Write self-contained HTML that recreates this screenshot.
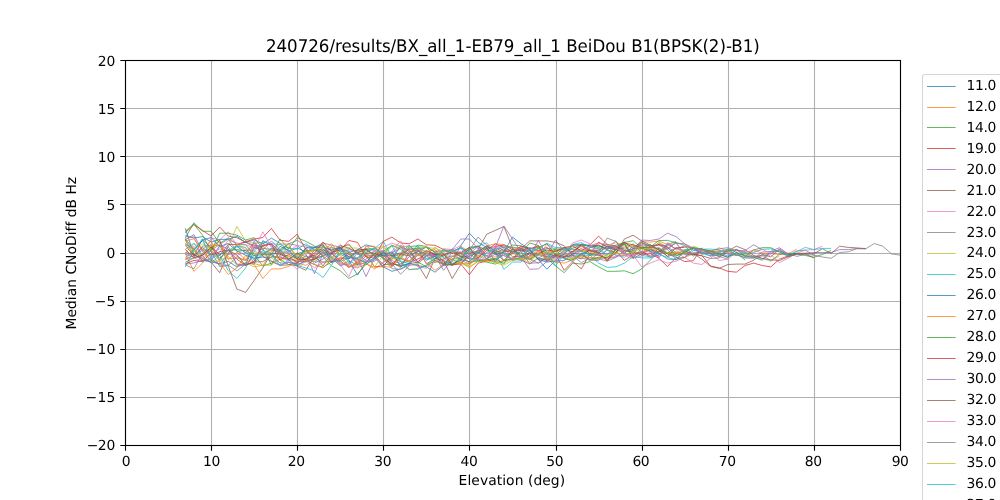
<!DOCTYPE html>
<html><head><meta charset="utf-8"><title>plot</title>
<style>html,body{margin:0;padding:0;background:#fff;width:1000px;height:500px;overflow:hidden}</style>
</head><body>
<svg width="1000" height="500" viewBox="0 0 1000 500" style="position:absolute;left:0;top:0">
<rect width="1000" height="500" fill="#fff"/>
<path d="M125.5 60.0V445.5M211.5 60.0V445.5M297.5 60.0V445.5M383.5 60.0V445.5M469.5 60.0V445.5M556.5 60.0V445.5M642.5 60.0V445.5M728.5 60.0V445.5M814.5 60.0V445.5M900.5 60.0V445.5M125.0 445.5H900.5M125.0 397.5H900.5M125.0 349.5H900.5M125.0 301.5H900.5M125.0 253.5H900.5M125.0 204.5H900.5M125.0 156.5H900.5M125.0 108.5H900.5M125.0 60.5H900.5" stroke="#b0b0b0" stroke-width="1.11" fill="none"/>
<clipPath id="c"><rect x="125.5" y="60.5" width="775" height="385"/></clipPath>
<g clip-path="url(#c)" fill="none" stroke-width="0.75" stroke-linejoin="round">
<polyline points="185.3,228.4 193.9,254.6 202.5,260.1 211.1,261.9 219.7,263.8 228.3,261.3 236.9,267.0 245.6,262.9 254.2,264.2 262.8,240.7 271.4,245.7 280.0,254.3 288.6,258.6 297.2,261.1 305.8,262.0 314.4,259.4 323.1,251.5 331.7,254.6 340.3,247.7 348.9,252.4 357.5,249.7 366.1,244.8 374.7,247.2 383.3,255.9 391.9,255.1 400.6,252.9 409.2,245.2 417.8,253.7 426.4,260.3 435.0,255.9 443.6,264.0 452.2,261.8 460.8,245.6 469.4,233.2 478.1,242.4 486.7,247.5 495.3,262.0 503.9,252.7 512.5,259.2 521.1,258.0 529.7,253.7 538.3,248.3 546.9,253.3 555.6,256.3 564.2,250.8 572.8,248.2 581.4,244.7 590.0,245.3 598.6,247.5 607.2,244.1 615.8,249.2 624.4,253.2 633.1,246.6 641.7,245.8 650.3,251.6 658.9,256.5" stroke="#1f77b4"/>
<polyline points="185.3,253.7 193.9,271.3 202.5,263.1 211.1,250.2 219.7,240.8 228.3,258.7 236.9,258.1 245.6,260.1 254.2,246.6 262.8,246.0 271.4,254.9 280.0,258.7 288.6,257.9 297.2,262.9 305.8,265.3 314.4,259.7 323.1,245.3 331.7,256.8 340.3,262.4 348.9,266.1 357.5,268.0 366.1,263.8 374.7,268.9 383.3,262.2 391.9,257.7 400.6,261.8 409.2,269.8 417.8,268.4 426.4,265.0 435.0,260.8 443.6,264.7 452.2,264.0 460.8,263.2 469.4,264.1 478.1,252.2 486.7,256.3 495.3,257.0 503.9,252.0 512.5,249.6 521.1,246.8 529.7,260.3 538.3,250.4 546.9,253.1 555.6,251.2 564.2,249.6 572.8,245.3 581.4,244.6 590.0,246.1 598.6,242.9 607.2,246.4 615.8,247.9 624.4,244.3 633.1,248.3 641.7,241.5 650.3,242.1 658.9,241.0 667.5,244.6 676.1,248.8 684.7,247.1 693.3,247.9 701.9,249.9 710.6,252.0 719.2,250.5 727.8,250.0 736.4,250.2 745.0,252.9 753.6,249.9 762.2,253.3 770.8,253.4 779.4,254.6 788.1,253.9 796.7,249.1" stroke="#ff7f0e"/>
<polyline points="185.3,238.1 193.9,222.7 202.5,231.3 211.1,231.3 219.7,243.4 228.3,237.8 236.9,244.5 245.6,244.8 254.2,254.7 262.8,266.0 271.4,263.2 280.0,259.3 288.6,264.5 297.2,265.9 305.8,260.2 314.4,264.5 323.1,267.2 331.7,261.9 340.3,254.3 348.9,258.6 357.5,251.0 366.1,248.9 374.7,249.9 383.3,259.3 391.9,264.2 400.6,257.3 409.2,248.2 417.8,248.6 426.4,247.3 435.0,251.6 443.6,250.8 452.2,253.2 460.8,256.6 469.4,262.0 478.1,261.1 486.7,262.1 495.3,264.1 503.9,260.6 512.5,250.8 521.1,253.6 529.7,243.0 538.3,245.4 546.9,258.3 555.6,266.0 564.2,272.7 572.8,263.1 581.4,264.1 590.0,261.6 598.6,266.9 607.2,271.3 615.8,271.3 624.4,270.8 633.1,273.7 641.7,268.9 650.3,260.2 658.9,251.4 667.5,244.4 676.1,241.5" stroke="#2ca02c"/>
<polyline points="185.3,232.8 193.9,224.6 202.5,230.4 211.1,236.1 219.7,227.0 228.3,236.1 236.9,237.7 245.6,242.3 254.2,245.4 262.8,246.1 271.4,243.8 280.0,252.3 288.6,259.7 297.2,252.9 305.8,260.6 314.4,259.0 323.1,255.7 331.7,253.0 340.3,260.9 348.9,251.8 357.5,264.1 366.1,255.8 374.7,266.8 383.3,265.9 391.9,256.3 400.6,258.3 409.2,262.1 417.8,259.2 426.4,253.0 435.0,254.5 443.6,255.7 452.2,250.5 460.8,256.8 469.4,258.7 478.1,258.4 486.7,248.0 495.3,246.7 503.9,245.0 512.5,249.6 521.1,250.6 529.7,247.8 538.3,250.7 546.9,247.4 555.6,254.5 564.2,270.3 572.8,261.6 581.4,268.9 590.0,253.7 598.6,242.2 607.2,246.8 615.8,250.4 624.4,260.4 633.1,254.6 641.7,251.4 650.3,256.0 658.9,248.3 667.5,256.5 676.1,253.9 684.7,250.6 693.3,254.1 701.9,255.6 710.6,266.0 719.2,267.9 727.8,271.3 736.4,272.2 745.0,265.5 753.6,263.1 762.2,265.5 770.8,266.9 779.4,259.2 788.1,255.9 796.7,253.8" stroke="#d62728"/>
<polyline points="185.3,239.8 193.9,234.5 202.5,251.5 211.1,260.4 219.7,263.9 228.3,254.5 236.9,244.8 245.6,242.0 254.2,247.3 262.8,250.0 271.4,240.9 280.0,249.6 288.6,243.7 297.2,245.4 305.8,253.7 314.4,273.7 323.1,253.9 331.7,247.3 340.3,251.7 348.9,249.7 357.5,250.9 366.1,252.4 374.7,248.3 383.3,254.3 391.9,260.6 400.6,263.5 409.2,260.9 417.8,254.7 426.4,258.4 435.0,256.0 443.6,270.3 452.2,259.8 460.8,262.6 469.4,255.8 478.1,250.8 486.7,258.8 495.3,249.8 503.9,244.7 512.5,248.0 521.1,257.2 529.7,269.3 538.3,268.9 546.9,261.4 555.6,256.5 564.2,256.4 572.8,255.9 581.4,262.7 590.0,258.0 598.6,259.0 607.2,257.2 615.8,257.2 624.4,250.3 633.1,249.3 641.7,240.0 650.3,240.5 658.9,239.0 667.5,233.2 676.1,236.6 684.7,243.8 693.3,250.3 701.9,249.4 710.6,254.8 719.2,252.2 727.8,256.0 736.4,254.5 745.0,258.0 753.6,258.3 762.2,252.1 770.8,251.4 779.4,247.7 788.1,253.9 796.7,253.5 805.3,253.1 813.9,252.5 822.5,252.5 831.1,252.5 839.7,249.6 848.3,249.6 856.9,248.5 865.6,248.4" stroke="#9467bd"/>
<polyline points="185.3,252.4 193.9,254.5 202.5,258.3 211.1,262.1 219.7,272.7 228.3,252.5 236.9,246.5 245.6,252.7 254.2,242.9 262.8,256.4 271.4,261.5 280.0,265.3 288.6,264.9 297.2,263.3 305.8,248.0 314.4,257.6 323.1,262.3 331.7,261.2 340.3,260.8 348.9,267.6 357.5,262.2 366.1,253.6 374.7,253.6 383.3,251.0 391.9,262.3 400.6,267.4 409.2,252.3 417.8,249.4 426.4,263.8 435.0,258.7 443.6,254.7 452.2,251.9 460.8,253.2 469.4,259.0 478.1,249.4 486.7,234.2 495.3,230.4 503.9,226.5 512.5,247.9 521.1,260.2 529.7,263.9 538.3,258.0 546.9,253.6 555.6,255.6 564.2,257.5 572.8,254.7 581.4,248.3 590.0,256.0 598.6,249.5 607.2,246.8 615.8,247.1 624.4,242.1 633.1,248.4 641.7,242.3 650.3,247.0 658.9,248.6 667.5,252.8 676.1,247.7 684.7,252.1 693.3,253.5 701.9,259.2 710.6,266.5 719.2,268.4 727.8,264.5 736.4,264.1 745.0,264.1 753.6,260.2 762.2,254.2 770.8,256.9 779.4,249.1 788.1,254.2 796.7,254.1 805.3,253.6 813.9,253.7 822.5,248.7 831.1,253.5 839.7,246.2 848.3,247.4 856.9,247.9 865.6,248.7" stroke="#8c564b"/>
<polyline points="185.3,239.4 193.9,236.1 202.5,258.9 211.1,237.8 219.7,239.9 228.3,231.8 236.9,245.4 245.6,249.8 254.2,251.3 262.8,254.3 271.4,250.2 280.0,249.5 288.6,260.7 297.2,258.4 305.8,253.2 314.4,250.6 323.1,255.2 331.7,252.7 340.3,244.3 348.9,254.2 357.5,262.3 366.1,246.1 374.7,251.3 383.3,250.4 391.9,256.4 400.6,247.5 409.2,245.5 417.8,255.9 426.4,253.5 435.0,256.3 443.6,248.7 452.2,249.6 460.8,261.3 469.4,251.3 478.1,255.4 486.7,252.9 495.3,251.0 503.9,253.5 512.5,253.6 521.1,248.4 529.7,250.7 538.3,256.1 546.9,244.3 555.6,249.5 564.2,253.1 572.8,254.8 581.4,250.8 590.0,247.1 598.6,249.1 607.2,246.0 615.8,255.8 624.4,255.4 633.1,254.5 641.7,251.9 650.3,247.6 658.9,258.4 667.5,242.4 676.1,249.9 684.7,249.8 693.3,248.1 701.9,249.1 710.6,253.6 719.2,260.6 727.8,259.1 736.4,252.2 745.0,255.4 753.6,255.8 762.2,258.7 770.8,254.6 779.4,262.6 788.1,258.3 796.7,253.1 805.3,250.1 813.9,249.6 822.5,246.2" stroke="#e377c2"/>
<polyline points="185.3,264.9 193.9,268.8 202.5,253.1 211.1,251.1 219.7,266.7 228.3,265.6 236.9,256.4 245.6,260.8 254.2,249.0 262.8,246.0 271.4,243.8 280.0,251.3 288.6,243.8 297.2,240.3 305.8,245.7 314.4,247.2 323.1,243.1 331.7,245.2 340.3,247.3 348.9,256.7 357.5,258.6 366.1,250.1 374.7,255.3 383.3,267.9 391.9,252.6 400.6,245.3 409.2,251.7 417.8,261.8 426.4,256.1 435.0,252.7 443.6,253.7 452.2,263.4 460.8,260.4 469.4,263.8 478.1,259.1 486.7,259.9 495.3,260.0 503.9,255.0 512.5,254.0 521.1,248.6 529.7,258.5 538.3,263.4 546.9,256.7 555.6,250.0 564.2,249.0 572.8,252.1 581.4,251.0 590.0,254.6 598.6,252.3 607.2,238.1 615.8,241.4 624.4,249.9 633.1,243.8 641.7,252.2 650.3,248.8 658.9,242.7 667.5,247.0 676.1,252.4 684.7,253.8 693.3,253.2 701.9,251.6 710.6,252.5 719.2,251.3 727.8,251.6 736.4,249.4 745.0,252.5 753.6,256.7 762.2,256.0 770.8,253.4 779.4,249.6 788.1,255.5 796.7,251.0 805.3,250.1 813.9,255.2 822.5,257.0 831.1,258.3 839.7,252.5 848.3,251.8 856.9,248.7 865.6,248.9 874.2,243.5 882.8,246.2 891.4,253.9 900.0,255.1" stroke="#7f7f7f"/>
<polyline points="185.3,253.0 193.9,243.7 202.5,248.5 211.1,261.6 219.7,261.0 228.3,246.7 236.9,226.5 245.6,240.9 254.2,243.4 262.8,242.5 271.4,251.6 280.0,249.2 288.6,246.8 297.2,255.7 305.8,253.5 314.4,248.2 323.1,256.5 331.7,249.6 340.3,247.4 348.9,245.3 357.5,253.2 366.1,249.8 374.7,248.8 383.3,245.7 391.9,255.6 400.6,253.8 409.2,247.9 417.8,254.3 426.4,255.5 435.0,247.1 443.6,254.8 452.2,260.1 460.8,262.8 469.4,265.6 478.1,255.3 486.7,258.9 495.3,262.4 503.9,262.8 512.5,259.2 521.1,253.1 529.7,259.3 538.3,251.2 546.9,254.9 555.6,250.2 564.2,247.9 572.8,247.1 581.4,251.0 590.0,251.6 598.6,249.3 607.2,257.2 615.8,252.7 624.4,248.2 633.1,245.3 641.7,247.6 650.3,249.6 658.9,249.5 667.5,253.0 676.1,251.8 684.7,249.9 693.3,248.6 701.9,254.5 710.6,251.2 719.2,247.7 727.8,251.3 736.4,255.3 745.0,254.4 753.6,257.8 762.2,258.4 770.8,261.2 779.4,256.0" stroke="#bcbd22"/>
<polyline points="185.3,266.9 193.9,250.0 202.5,240.4 211.1,257.0 219.7,246.5 228.3,255.0 236.9,246.3 245.6,247.3 254.2,260.1 262.8,254.1 271.4,248.3 280.0,250.0 288.6,249.7 297.2,257.2 305.8,259.0 314.4,261.6 323.1,256.1 331.7,247.7 340.3,249.2 348.9,251.0 357.5,259.1 366.1,248.9 374.7,248.3 383.3,241.4 391.9,256.4 400.6,261.1 409.2,263.7 417.8,246.8 426.4,251.9 435.0,258.8 443.6,256.4 452.2,252.1 460.8,255.9 469.4,247.2 478.1,246.1 486.7,242.8 495.3,252.6 503.9,269.3 512.5,262.1 521.1,262.1 529.7,251.8 538.3,249.2 546.9,243.2 555.6,247.7 564.2,248.0 572.8,255.9 581.4,255.3 590.0,255.4 598.6,255.4 607.2,250.2 615.8,254.8 624.4,257.3 633.1,250.0 641.7,255.5 650.3,256.8 658.9,251.6 667.5,249.4 676.1,259.7 684.7,257.5 693.3,250.7 701.9,249.1 710.6,249.1 719.2,249.8 727.8,254.4 736.4,255.1 745.0,253.8 753.6,252.5 762.2,249.4 770.8,248.9 779.4,251.8 788.1,255.4 796.7,251.6 805.3,247.4 813.9,249.6 822.5,248.4 831.1,248.4" stroke="#17becf"/>
<polyline points="185.3,235.8 193.9,238.0 202.5,236.6 211.1,242.1 219.7,239.4 228.3,239.3 236.9,236.3 245.6,242.4 254.2,239.9 262.8,243.9 271.4,238.1 280.0,243.3 288.6,251.6 297.2,248.0 305.8,251.9 314.4,247.4 323.1,244.8 331.7,262.9 340.3,252.7 348.9,256.7 357.5,259.5 366.1,262.3 374.7,257.7 383.3,266.9 391.9,271.3 400.6,268.9 409.2,263.9 417.8,255.3 426.4,250.7 435.0,254.2 443.6,260.9 452.2,265.7 460.8,256.7 469.4,256.4 478.1,252.4 486.7,245.9 495.3,250.8 503.9,253.4 512.5,260.4 521.1,251.0 529.7,250.3 538.3,259.3 546.9,269.3 555.6,260.1 564.2,253.9 572.8,244.7 581.4,245.2 590.0,245.7 598.6,245.8 607.2,248.1 615.8,249.7 624.4,242.3 633.1,248.2 641.7,248.3 650.3,251.4 658.9,253.2 667.5,259.0 676.1,259.5 684.7,251.3 693.3,248.4 701.9,252.5 710.6,255.9 719.2,254.4 727.8,257.4 736.4,249.5 745.0,256.2 753.6,257.2 762.2,260.2 770.8,251.9 779.4,250.8 788.1,254.6 796.7,253.4" stroke="#1f77b4"/>
<polyline points="185.3,241.0 193.9,238.8 202.5,250.0 211.1,240.5 219.7,262.7 228.3,274.6 236.9,267.7 245.6,255.6 254.2,263.6 262.8,265.8 271.4,251.2 280.0,244.0 288.6,244.0 297.2,259.7 305.8,259.7 314.4,250.2 323.1,250.4 331.7,243.8 340.3,255.5 348.9,266.2 357.5,264.8 366.1,246.3 374.7,246.2 383.3,257.2 391.9,266.9 400.6,258.3 409.2,261.1 417.8,252.7 426.4,262.8 435.0,270.3 443.6,264.1 452.2,265.4 460.8,262.1 469.4,267.8 478.1,260.9 486.7,260.4 495.3,261.8 503.9,260.9 512.5,257.8 521.1,260.1 529.7,250.9 538.3,245.7 546.9,251.1 555.6,251.7 564.2,248.1 572.8,249.8 581.4,250.1 590.0,250.8 598.6,255.1 607.2,258.2 615.8,252.4 624.4,246.2 633.1,253.9 641.7,252.5 650.3,249.3 658.9,252.0 667.5,252.9 676.1,252.4 684.7,257.5 693.3,253.5" stroke="#ff7f0e"/>
<polyline points="185.3,231.3 193.9,224.1 202.5,235.2 211.1,251.1 219.7,233.2 228.3,233.2 236.9,235.2 245.6,240.0 254.2,237.6 262.8,249.0 271.4,264.9 280.0,249.6 288.6,259.2 297.2,253.7 305.8,250.8 314.4,250.3 323.1,249.1 331.7,258.2 340.3,265.8 348.9,260.9 357.5,265.2 366.1,262.1 374.7,253.6 383.3,257.7 391.9,263.7 400.6,266.0 409.2,263.7 417.8,262.1 426.4,266.7 435.0,260.3 443.6,264.4 452.2,258.8 460.8,258.7 469.4,248.1 478.1,246.4 486.7,249.9 495.3,252.5 503.9,250.4 512.5,245.0 521.1,245.8 529.7,248.5 538.3,247.7 546.9,243.8 555.6,254.9 564.2,247.8 572.8,252.0 581.4,244.0 590.0,246.1 598.6,245.9 607.2,249.3 615.8,245.2 624.4,242.5 633.1,240.7 641.7,248.3 650.3,247.0 658.9,240.5 667.5,240.4 676.1,242.8 684.7,245.3 693.3,256.2 701.9,249.7 710.6,250.7 719.2,255.9 727.8,249.1 736.4,252.4 745.0,256.5 753.6,250.0 762.2,247.7 770.8,247.7 779.4,252.0 788.1,256.5 796.7,254.0 805.3,255.4 813.9,257.3 822.5,254.4 831.1,250.6" stroke="#2ca02c"/>
<polyline points="185.3,263.8 193.9,260.4 202.5,261.7 211.1,253.1 219.7,255.5 228.3,244.4 236.9,244.5 245.6,241.7 254.2,239.0 262.8,237.6 271.4,228.4 280.0,240.2 288.6,241.4 297.2,234.2 305.8,249.7 314.4,259.9 323.1,251.8 331.7,262.0 340.3,257.9 348.9,258.8 357.5,249.7 366.1,249.3 374.7,256.2 383.3,254.7 391.9,266.0 400.6,253.8 409.2,249.7 417.8,262.8 426.4,250.9 435.0,254.6 443.6,254.2 452.2,264.7 460.8,264.1 469.4,274.6 478.1,263.1 486.7,261.0 495.3,259.2 503.9,250.8 512.5,252.1 521.1,248.5 529.7,255.4 538.3,253.1 546.9,250.0 555.6,251.2 564.2,247.6 572.8,245.9 581.4,251.0 590.0,244.8 598.6,236.1 607.2,244.6 615.8,245.9 624.4,250.7 633.1,252.0 641.7,254.9 650.3,253.5 658.9,258.3 667.5,266.5 676.1,257.3 684.7,261.6 693.3,260.7 701.9,247.7" stroke="#d62728"/>
<polyline points="185.3,254.0 193.9,257.3 202.5,246.2 211.1,245.3 219.7,259.8 228.3,246.2 236.9,265.4 245.6,265.1 254.2,241.1 262.8,255.1 271.4,253.8 280.0,263.2 288.6,262.5 297.2,264.6 305.8,261.2 314.4,254.7 323.1,247.5 331.7,250.0 340.3,246.8 348.9,258.1 357.5,258.1 366.1,276.6 374.7,258.0 383.3,252.7 391.9,253.2 400.6,247.8 409.2,249.4 417.8,250.4 426.4,255.5 435.0,256.2 443.6,252.1 452.2,249.6 460.8,239.0 469.4,239.0 478.1,248.9 486.7,258.6 495.3,254.3 503.9,255.5 512.5,259.3 521.1,260.3 529.7,256.2 538.3,240.5 546.9,254.9 555.6,240.0 564.2,251.7 572.8,257.9 581.4,258.1 590.0,260.1 598.6,253.0 607.2,254.3 615.8,247.4 624.4,252.3 633.1,249.2 641.7,244.7 650.3,245.7 658.9,244.7 667.5,249.4 676.1,242.4 684.7,254.9 693.3,254.7 701.9,249.9 710.6,253.8 719.2,256.4 727.8,259.1" stroke="#9467bd"/>
<polyline points="185.3,239.7 193.9,256.0 202.5,239.1 211.1,247.9 219.7,240.3 228.3,266.3 236.9,289.1 245.6,292.4 254.2,280.4 262.8,267.9 271.4,253.0 280.0,254.2 288.6,256.1 297.2,262.5 305.8,258.7 314.4,255.1 323.1,265.9 331.7,253.1 340.3,247.8 348.9,244.1 357.5,254.5 366.1,255.1 374.7,255.6 383.3,264.6 391.9,264.1 400.6,264.9 409.2,256.7 417.8,251.0 426.4,247.2 435.0,256.9 443.6,263.7 452.2,256.6 460.8,252.9 469.4,250.2 478.1,245.9 486.7,255.6 495.3,252.8 503.9,260.8 512.5,258.8 521.1,249.0 529.7,240.9 538.3,240.9 546.9,240.9 555.6,242.4 564.2,245.8 572.8,255.3 581.4,259.0 590.0,247.6 598.6,244.9 607.2,249.8 615.8,252.5 624.4,243.9 633.1,258.4 641.7,253.8 650.3,250.0 658.9,251.9 667.5,247.7 676.1,255.2 684.7,253.5 693.3,254.5 701.9,255.8 710.6,258.4 719.2,257.9 727.8,251.0 736.4,246.2 745.0,249.6 753.6,255.3 762.2,258.4 770.8,259.8 779.4,260.5 788.1,256.9 796.7,254.0 805.3,254.2 813.9,257.9" stroke="#8c564b"/>
<polyline points="185.3,259.5 193.9,258.0 202.5,261.2 211.1,257.4 219.7,252.2 228.3,240.1 236.9,242.9 245.6,244.5 254.2,248.3 262.8,231.8 271.4,247.1 280.0,252.7 288.6,251.1 297.2,245.6 305.8,246.8 314.4,249.8 323.1,254.0 331.7,246.4 340.3,264.7 348.9,276.6 357.5,257.9 366.1,255.3 374.7,250.9 383.3,247.1 391.9,243.2 400.6,245.8 409.2,262.5 417.8,258.9 426.4,256.7 435.0,250.9 443.6,250.6 452.2,249.8 460.8,245.5 469.4,257.9 478.1,259.0 486.7,260.2 495.3,247.0 503.9,250.5 512.5,250.7 521.1,260.0 529.7,258.3 538.3,254.6 546.9,256.0 555.6,256.2 564.2,252.9 572.8,242.9 581.4,240.0 590.0,243.8 598.6,254.3 607.2,259.6 615.8,256.2 624.4,255.5 633.1,258.3 641.7,256.1 650.3,252.4 658.9,257.1 667.5,245.4 676.1,243.4 684.7,254.2 693.3,252.8 701.9,250.1 710.6,250.9" stroke="#e377c2"/>
<polyline points="185.3,258.7 193.9,255.8 202.5,250.2 211.1,250.2 219.7,244.5 228.3,239.0 236.9,251.3 245.6,250.5 254.2,262.8 262.8,254.8 271.4,248.5 280.0,251.8 288.6,252.6 297.2,257.5 305.8,261.8 314.4,250.5 323.1,244.2 331.7,257.8 340.3,248.5 348.9,253.9 357.5,264.7 366.1,259.0 374.7,254.0 383.3,255.6 391.9,259.6 400.6,246.1 409.2,254.9 417.8,251.5 426.4,253.0 435.0,258.7 443.6,259.8 452.2,248.7 460.8,255.1 469.4,253.1 478.1,260.8 486.7,259.5 495.3,248.2 503.9,260.3 512.5,252.5 521.1,248.7 529.7,249.5 538.3,259.8 546.9,256.7 555.6,262.6 564.2,254.1 572.8,259.2 581.4,255.3 590.0,260.0 598.6,258.8 607.2,261.1 615.8,257.4 624.4,251.1 633.1,250.8 641.7,242.9 650.3,245.5 658.9,245.3 667.5,248.4 676.1,242.9 684.7,243.8 693.3,247.9 701.9,254.0 710.6,253.0 719.2,253.5 727.8,253.1 736.4,255.0 745.0,257.4 753.6,257.0 762.2,255.2 770.8,260.7 779.4,254.4 788.1,253.0 796.7,256.4 805.3,254.4 813.9,255.2" stroke="#7f7f7f"/>
<polyline points="185.3,243.8 193.9,253.4 202.5,254.5 211.1,243.8 219.7,245.6 228.3,256.6 236.9,265.1 245.6,262.7 254.2,266.9 262.8,265.2 271.4,265.2 280.0,256.1 288.6,247.1 297.2,256.1 305.8,258.1 314.4,261.3 323.1,262.4 331.7,257.8 340.3,250.5 348.9,247.9 357.5,248.1 366.1,254.5 374.7,266.9 383.3,254.9 391.9,246.2 400.6,245.8 409.2,247.0 417.8,246.5 426.4,247.5 435.0,248.3 443.6,251.3 452.2,253.3 460.8,246.4 469.4,251.4 478.1,255.6 486.7,260.5 495.3,250.7 503.9,253.3 512.5,259.9 521.1,258.9 529.7,258.9 538.3,247.4 546.9,253.3 555.6,252.9 564.2,257.9 572.8,258.8 581.4,249.9 590.0,253.3 598.6,253.5 607.2,245.3 615.8,242.7 624.4,244.9 633.1,247.5 641.7,246.4 650.3,249.6 658.9,242.6 667.5,253.9 676.1,252.6 684.7,254.2 693.3,246.2 701.9,249.5 710.6,251.8 719.2,251.8" stroke="#bcbd22"/>
<polyline points="185.3,249.5 193.9,243.2 202.5,256.3 211.1,263.1 219.7,254.9 228.3,270.8 236.9,278.5 245.6,267.9 254.2,251.5 262.8,242.0 271.4,243.7 280.0,244.4 288.6,248.2 297.2,249.1 305.8,243.7 314.4,249.8 323.1,252.3 331.7,258.6 340.3,261.5 348.9,258.3 357.5,252.4 366.1,264.5 374.7,257.3 383.3,255.5 391.9,254.9 400.6,259.7 409.2,246.5 417.8,245.7 426.4,259.0 435.0,258.7 443.6,249.9 452.2,251.5 460.8,248.5 469.4,251.1 478.1,253.0 486.7,255.7 495.3,261.1 503.9,250.8 512.5,260.8 521.1,257.4 529.7,249.6 538.3,257.8 546.9,260.8 555.6,247.8 564.2,248.4 572.8,249.1 581.4,251.9 590.0,255.0 598.6,263.1 607.2,267.4 615.8,266.9 624.4,263.1 633.1,256.7 641.7,257.9 650.3,258.0 658.9,254.4 667.5,257.3 676.1,260.0 684.7,250.1 693.3,248.6 701.9,253.0 710.6,256.2 719.2,252.0 727.8,249.0 736.4,255.0 745.0,251.3" stroke="#17becf"/>
<polyline points="185.3,238.8 193.9,249.6 202.5,240.2 211.1,237.5 219.7,246.5 228.3,243.5 236.9,251.0 245.6,255.2 254.2,258.0 262.8,257.0 271.4,257.7 280.0,246.3 288.6,250.4 297.2,259.2 305.8,247.8 314.4,247.7 323.1,246.9 331.7,250.4 340.3,247.7 348.9,260.4 357.5,275.1 366.1,262.0 374.7,253.7 383.3,255.7 391.9,251.7 400.6,266.4 409.2,263.3 417.8,265.7 426.4,266.9 435.0,272.2 443.6,265.3 452.2,264.4 460.8,259.4 469.4,261.7 478.1,253.2 486.7,247.7 495.3,254.7 503.9,252.0 512.5,237.1 521.1,243.8 529.7,248.9 538.3,259.7 546.9,262.0 555.6,261.1 564.2,260.6 572.8,253.5 581.4,254.4 590.0,250.0 598.6,253.2 607.2,246.0 615.8,249.3 624.4,247.9" stroke="#1f77b4"/>
<polyline points="185.3,260.2 193.9,247.6 202.5,261.0 211.1,246.1 219.7,245.3 228.3,259.5 236.9,252.2 245.6,259.2 254.2,264.5 262.8,278.5 271.4,268.9 280.0,268.9 288.6,266.5 297.2,261.3 305.8,260.3 314.4,264.6 323.1,268.0 331.7,259.1 340.3,258.2 348.9,266.6 357.5,263.0 366.1,263.9 374.7,267.3 383.3,266.5 391.9,267.2 400.6,255.2 409.2,251.8 417.8,249.4 426.4,251.9 435.0,249.4 443.6,262.6 452.2,258.8 460.8,253.2 469.4,263.7 478.1,256.9 486.7,245.9 495.3,243.8 503.9,244.6 512.5,253.5 521.1,255.3 529.7,257.2 538.3,250.6 546.9,259.1 555.6,261.9 564.2,263.1 572.8,259.8 581.4,256.0 590.0,257.5 598.6,257.9 607.2,254.9 615.8,246.7 624.4,255.0 633.1,251.5 641.7,247.1" stroke="#ff7f0e"/>
<polyline points="185.3,262.3 193.9,258.0 202.5,255.0 211.1,247.9 219.7,258.4 228.3,250.2 236.9,249.7 245.6,250.5 254.2,255.8 262.8,254.3 271.4,255.1 280.0,239.0 288.6,248.8 297.2,237.6 305.8,241.4 314.4,245.8 323.1,257.1 331.7,266.0 340.3,270.8 348.9,278.5 357.5,273.7 366.1,264.2 374.7,259.1 383.3,251.4 391.9,245.1 400.6,249.3 409.2,255.9 417.8,245.0 426.4,246.4 435.0,252.6 443.6,257.4 452.2,265.0 460.8,260.0 469.4,247.4 478.1,260.9 486.7,259.8 495.3,258.4 503.9,264.1 512.5,248.5 521.1,256.4 529.7,259.3 538.3,254.8 546.9,248.3 555.6,249.4 564.2,259.0 572.8,260.0 581.4,253.5 590.0,260.1 598.6,257.1 607.2,257.5 615.8,250.4 624.4,243.5 633.1,258.0 641.7,248.2 650.3,244.7 658.9,250.3 667.5,253.6 676.1,256.0 684.7,252.5 693.3,247.5 701.9,249.2 710.6,251.1 719.2,253.7 727.8,257.2 736.4,252.6 745.0,260.0" stroke="#2ca02c"/>
<polyline points="185.3,249.5 193.9,257.6 202.5,255.4 211.1,246.9 219.7,254.6 228.3,250.5 236.9,259.2 245.6,265.2 254.2,261.2 262.8,245.2 271.4,243.9 280.0,260.4 288.6,254.1 297.2,259.0 305.8,259.6 314.4,253.3 323.1,241.9 331.7,252.0 340.3,250.1 348.9,240.5 357.5,242.4 366.1,257.1 374.7,257.1 383.3,241.4 391.9,237.1 400.6,242.9 409.2,243.8 417.8,239.0 426.4,244.8 435.0,245.3 443.6,249.6 452.2,253.4 460.8,252.6 469.4,247.3 478.1,258.0 486.7,250.3 495.3,244.0 503.9,247.3 512.5,252.1 521.1,246.3 529.7,249.0 538.3,245.8 546.9,261.1 555.6,255.4 564.2,256.6 572.8,251.3 581.4,246.1 590.0,250.7 598.6,252.0 607.2,261.2 615.8,248.8 624.4,243.2 633.1,244.8 641.7,248.2 650.3,247.5 658.9,244.5 667.5,246.9" stroke="#d62728"/>
<polyline points="185.3,264.3 193.9,262.9 202.5,260.5 211.1,261.2 219.7,245.1 228.3,249.1 236.9,264.0 245.6,265.2 254.2,255.2 262.8,251.9 271.4,260.8 280.0,265.0 288.6,262.5 297.2,263.5 305.8,255.0 314.4,263.1 323.1,259.1 331.7,252.5 340.3,265.3 348.9,264.0 357.5,252.7 366.1,261.2 374.7,261.2 383.3,251.9 391.9,263.7 400.6,274.2 409.2,265.9 417.8,250.7 426.4,255.0 435.0,254.9 443.6,266.2 452.2,252.0 460.8,247.2 469.4,253.9 478.1,246.4 486.7,259.5 495.3,247.7 503.9,226.0 512.5,239.0 521.1,252.1 529.7,263.3 538.3,262.7 546.9,258.4 555.6,257.5 564.2,258.0 572.8,261.5 581.4,253.5 590.0,260.0 598.6,260.7 607.2,248.9 615.8,240.9 624.4,254.1 633.1,256.1 641.7,252.2 650.3,257.2 658.9,255.1 667.5,243.7 676.1,248.9 684.7,245.9 693.3,248.4 701.9,252.9 710.6,251.1 719.2,248.8 727.8,247.7 736.4,250.7 745.0,250.6 753.6,244.8 762.2,249.6" stroke="#9467bd"/>
<polyline points="185.3,245.2 193.9,255.9 202.5,247.3 211.1,255.0 219.7,251.7 228.3,250.0 236.9,255.0 245.6,265.3 254.2,262.0 262.8,261.6 271.4,256.8 280.0,257.1 288.6,259.6 297.2,266.2 305.8,270.3 314.4,256.1 323.1,249.8 331.7,253.1 340.3,245.6 348.9,248.2 357.5,252.8 366.1,249.0 374.7,255.3 383.3,253.2 391.9,255.8 400.6,254.7 409.2,255.4 417.8,264.3 426.4,278.5 435.0,258.0 443.6,260.5 452.2,278.5 460.8,264.5 469.4,253.6 478.1,250.8 486.7,246.1 495.3,252.9 503.9,248.7 512.5,256.7 521.1,256.5 529.7,252.8 538.3,258.8 546.9,259.8 555.6,253.9 564.2,257.4 572.8,252.0 581.4,244.7 590.0,253.8 598.6,254.9 607.2,259.5 615.8,253.1 624.4,239.0 633.1,235.2 641.7,240.9 650.3,245.0 658.9,250.1 667.5,256.2 676.1,247.8 684.7,247.1" stroke="#8c564b"/>
<polyline points="185.3,244.9 193.9,246.8 202.5,251.0 211.1,253.9 219.7,248.8 228.3,254.1 236.9,255.1 245.6,252.4 254.2,246.9 262.8,245.1 271.4,243.2 280.0,256.1 288.6,261.5 297.2,269.3 305.8,260.6 314.4,267.9 323.1,262.4 331.7,260.2 340.3,263.6 348.9,264.3 357.5,267.1 366.1,260.9 374.7,259.3 383.3,263.2 391.9,251.4 400.6,240.9 409.2,255.8 417.8,267.0 426.4,268.3 435.0,261.7 443.6,261.4 452.2,251.9 460.8,251.8 469.4,258.0 478.1,259.7 486.7,259.8 495.3,245.4 503.9,256.0 512.5,258.6 521.1,255.7 529.7,247.6 538.3,251.5 546.9,260.0 555.6,259.7 564.2,255.3 572.8,252.6 581.4,250.0 590.0,245.6 598.6,243.2 607.2,244.4 615.8,247.9 624.4,253.3 633.1,255.0 641.7,266.9 650.3,263.1 658.9,259.7 667.5,263.1 676.1,261.2 684.7,257.3 693.3,263.1 701.9,264.5 710.6,258.2 719.2,250.7 727.8,252.6 736.4,255.1 745.0,251.6 753.6,252.0 762.2,249.2 770.8,253.9 779.4,249.3 788.1,254.3" stroke="#e377c2"/>
<polyline points="185.3,243.3 193.9,249.3 202.5,261.2 211.1,258.8 219.7,265.1 228.3,265.2 236.9,270.9 245.6,264.1 254.2,247.5 262.8,248.3 271.4,249.4 280.0,253.2 288.6,259.4 297.2,253.7 305.8,256.6 314.4,258.1 323.1,256.0 331.7,262.5 340.3,259.5 348.9,254.4 357.5,253.0 366.1,253.7 374.7,252.0 383.3,257.8 391.9,268.6 400.6,269.4 409.2,265.1 417.8,264.7 426.4,255.3 435.0,262.7 443.6,258.6 452.2,255.8 460.8,258.7 469.4,250.4 478.1,237.1 486.7,245.1 495.3,250.9 503.9,246.8 512.5,247.3 521.1,248.3 529.7,252.6 538.3,254.7 546.9,256.4 555.6,256.0 564.2,254.2 572.8,244.9 581.4,244.8 590.0,249.8 598.6,250.8 607.2,248.1 615.8,246.7 624.4,244.5 633.1,253.9 641.7,242.1 650.3,249.7 658.9,247.5 667.5,254.1 676.1,257.3 684.7,257.5 693.3,248.5 701.9,248.9 710.6,253.4 719.2,256.6 727.8,250.1 736.4,255.6" stroke="#7f7f7f"/>
<polyline points="185.3,238.2 193.9,252.1 202.5,244.1 211.1,249.7 219.7,261.3 228.3,254.9 236.9,244.4 245.6,248.0 254.2,253.3 262.8,253.5 271.4,257.8 280.0,262.9 288.6,255.4 297.2,259.6 305.8,251.4 314.4,250.4 323.1,247.1 331.7,247.2 340.3,254.1 348.9,251.8 357.5,260.8 366.1,252.1 374.7,255.4 383.3,246.9 391.9,259.0 400.6,257.1 409.2,261.6 417.8,255.5 426.4,252.4 435.0,263.1 443.6,250.5 452.2,251.5 460.8,263.3 469.4,266.5 478.1,261.6 486.7,260.7 495.3,262.8 503.9,265.2 512.5,260.4 521.1,258.9 529.7,262.5 538.3,252.9 546.9,258.8 555.6,258.4 564.2,251.2 572.8,258.5 581.4,257.0 590.0,260.2 598.6,259.2 607.2,255.2 615.8,252.9 624.4,254.8 633.1,251.3 641.7,249.0 650.3,248.1" stroke="#bcbd22"/>
<polyline points="185.3,257.3 193.9,250.4 202.5,238.8 211.1,259.0 219.7,254.0 228.3,250.3 236.9,245.9 245.6,253.1 254.2,259.1 262.8,250.3 271.4,253.8 280.0,265.9 288.6,260.2 297.2,265.2 305.8,268.0 314.4,270.9 323.1,277.5 331.7,265.0 340.3,249.5 348.9,263.3 357.5,257.5 366.1,252.0 374.7,248.7 383.3,253.5 391.9,245.4 400.6,261.5 409.2,269.3 417.8,269.3 426.4,265.4 435.0,258.4 443.6,249.9 452.2,251.1 460.8,247.9 469.4,259.0 478.1,260.5 486.7,252.1 495.3,249.0 503.9,247.5 512.5,251.3 521.1,255.7 529.7,249.0 538.3,247.6 546.9,251.8 555.6,266.0 564.2,253.8 572.8,244.4 581.4,242.6 590.0,247.4 598.6,248.5 607.2,254.7 615.8,249.8" stroke="#17becf"/>
</g>
<path d="M125.5 445.5v5.3M211.5 445.5v5.3M297.5 445.5v5.3M383.5 445.5v5.3M469.5 445.5v5.3M556.5 445.5v5.3M642.5 445.5v5.3M728.5 445.5v5.3M814.5 445.5v5.3M900.5 445.5v5.3M125.5 445.5h-5.2M125.5 397.5h-5.2M125.5 349.5h-5.2M125.5 301.5h-5.2M125.5 253.5h-5.2M125.5 204.5h-5.2M125.5 156.5h-5.2M125.5 108.5h-5.2M125.5 60.5h-5.2" stroke="#000" stroke-width="1.11" fill="none"/>
<rect x="125.5" y="60.5" width="775.0" height="385.0" fill="none" stroke="#000" stroke-width="1.11"/>
<g font-family="DejaVu Sans, Liberation Sans, sans-serif" font-size="13.89" fill="#000" text-rendering="geometricPrecision" style="font-variant-ligatures:none">
<text x="121.75" y="466" letter-spacing="-0.4">0</text>
<text x="203.05" y="466" letter-spacing="-0.4">10</text>
<text x="287.85" y="466" letter-spacing="-0.4">20</text>
<text x="374.35" y="466" letter-spacing="-0.4">30</text>
<text x="460.55" y="466" letter-spacing="-0.4">40</text>
<text x="546.35" y="466" letter-spacing="-0.4">50</text>
<text x="632.45" y="466" letter-spacing="-0.4">60</text>
<text x="718.75" y="466" letter-spacing="-0.4">70</text>
<text x="804.85" y="466" letter-spacing="-0.4">80</text>
<text x="891.70" y="466" letter-spacing="-0.4">90</text>
<text x="86.8 97.8 106.4" y="450">−20</text>
<text x="115.65" y="402" text-anchor="end" letter-spacing="0.25">−15</text>
<text x="115.65" y="354" text-anchor="end" letter-spacing="0.25">−10</text>
<text x="115.65" y="306" text-anchor="end" letter-spacing="0.25">−5</text>
<text x="115.4" y="258" text-anchor="end">0</text>
<text x="115.4" y="210" text-anchor="end">5</text>
<text x="115.4" y="162" text-anchor="end">10</text>
<text x="115.4" y="114" text-anchor="end">15</text>
<text x="115.4" y="66" text-anchor="end">20</text>
<text x="511.85" y="484.7" text-anchor="middle" textLength="106.5">Elevation (deg)</text>
<text transform="translate(76.1 253.15) rotate(-90)" text-anchor="middle">Median CNoDiff dB Hz</text>
<text transform="translate(512.85 52) scale(1 1.045)" text-anchor="middle" font-size="16.67" textLength="493.8">240726/results/BX_all_1-EB79_all_1 BeiDou B1(BPSK(2)-B1)</text>
<rect x="922.5" y="74.5" width="120" height="700" rx="2.8" fill="#fff" fill-opacity="0.8" stroke="#ccc" stroke-opacity="0.8" stroke-width="1.11"/>
<path d="M927 86.5H955.6" stroke="#1f77b4" stroke-width="0.75" fill="none"/>
<text x="966.6" y="90" letter-spacing="-0.35">11.0</text>
<path d="M927 107.5H955.6" stroke="#ff7f0e" stroke-width="0.75" fill="none"/>
<text x="966.6" y="111" letter-spacing="-0.35">12.0</text>
<path d="M927 127.5H955.6" stroke="#2ca02c" stroke-width="0.75" fill="none"/>
<text x="966.6" y="132" letter-spacing="-0.35">14.0</text>
<path d="M927 148.5H955.6" stroke="#d62728" stroke-width="0.75" fill="none"/>
<text x="966.6" y="153" letter-spacing="-0.35">19.0</text>
<path d="M927 169.5H955.6" stroke="#9467bd" stroke-width="0.75" fill="none"/>
<text x="966.6" y="174" letter-spacing="-0.35">20.0</text>
<path d="M927 190.5H955.6" stroke="#8c564b" stroke-width="0.75" fill="none"/>
<text x="966.6" y="195" letter-spacing="-0.35">21.0</text>
<path d="M927 211.5H955.6" stroke="#e377c2" stroke-width="0.75" fill="none"/>
<text x="966.6" y="216" letter-spacing="-0.35">22.0</text>
<path d="M927 232.5H955.6" stroke="#7f7f7f" stroke-width="0.75" fill="none"/>
<text x="966.6" y="237" letter-spacing="-0.35">23.0</text>
<path d="M927 253.5H955.6" stroke="#bcbd22" stroke-width="0.75" fill="none"/>
<text x="966.6" y="257" letter-spacing="-0.35">24.0</text>
<path d="M927 274.5H955.6" stroke="#17becf" stroke-width="0.75" fill="none"/>
<text x="966.6" y="278" letter-spacing="-0.35">25.0</text>
<path d="M927 295.5H955.6" stroke="#1f77b4" stroke-width="0.75" fill="none"/>
<text x="966.6" y="299" letter-spacing="-0.35">26.0</text>
<path d="M927 316.5H955.6" stroke="#ff7f0e" stroke-width="0.75" fill="none"/>
<text x="966.6" y="320" letter-spacing="-0.35">27.0</text>
<path d="M927 337.5H955.6" stroke="#2ca02c" stroke-width="0.75" fill="none"/>
<text x="966.6" y="341" letter-spacing="-0.35">28.0</text>
<path d="M927 358.5H955.6" stroke="#d62728" stroke-width="0.75" fill="none"/>
<text x="966.6" y="362" letter-spacing="-0.35">29.0</text>
<path d="M927 379.5H955.6" stroke="#9467bd" stroke-width="0.75" fill="none"/>
<text x="966.6" y="383" letter-spacing="-0.35">30.0</text>
<path d="M927 400.5H955.6" stroke="#8c564b" stroke-width="0.75" fill="none"/>
<text x="966.6" y="404" letter-spacing="-0.35">32.0</text>
<path d="M927 421.5H955.6" stroke="#e377c2" stroke-width="0.75" fill="none"/>
<text x="966.6" y="425" letter-spacing="-0.35">33.0</text>
<path d="M927 442.5H955.6" stroke="#7f7f7f" stroke-width="0.75" fill="none"/>
<text x="966.6" y="446" letter-spacing="-0.35">34.0</text>
<path d="M927 463.5H955.6" stroke="#bcbd22" stroke-width="0.75" fill="none"/>
<text x="966.6" y="467" letter-spacing="-0.35">35.0</text>
<path d="M927 484.5H955.6" stroke="#17becf" stroke-width="0.75" fill="none"/>
<text x="966.6" y="488" letter-spacing="-0.35">36.0</text>
<path d="M927 505.5H955.6" stroke="#1f77b4" stroke-width="0.75" fill="none"/>
<text x="966.6" y="509" letter-spacing="-0.35">37.0</text>
</g>
</svg>
</body></html>
